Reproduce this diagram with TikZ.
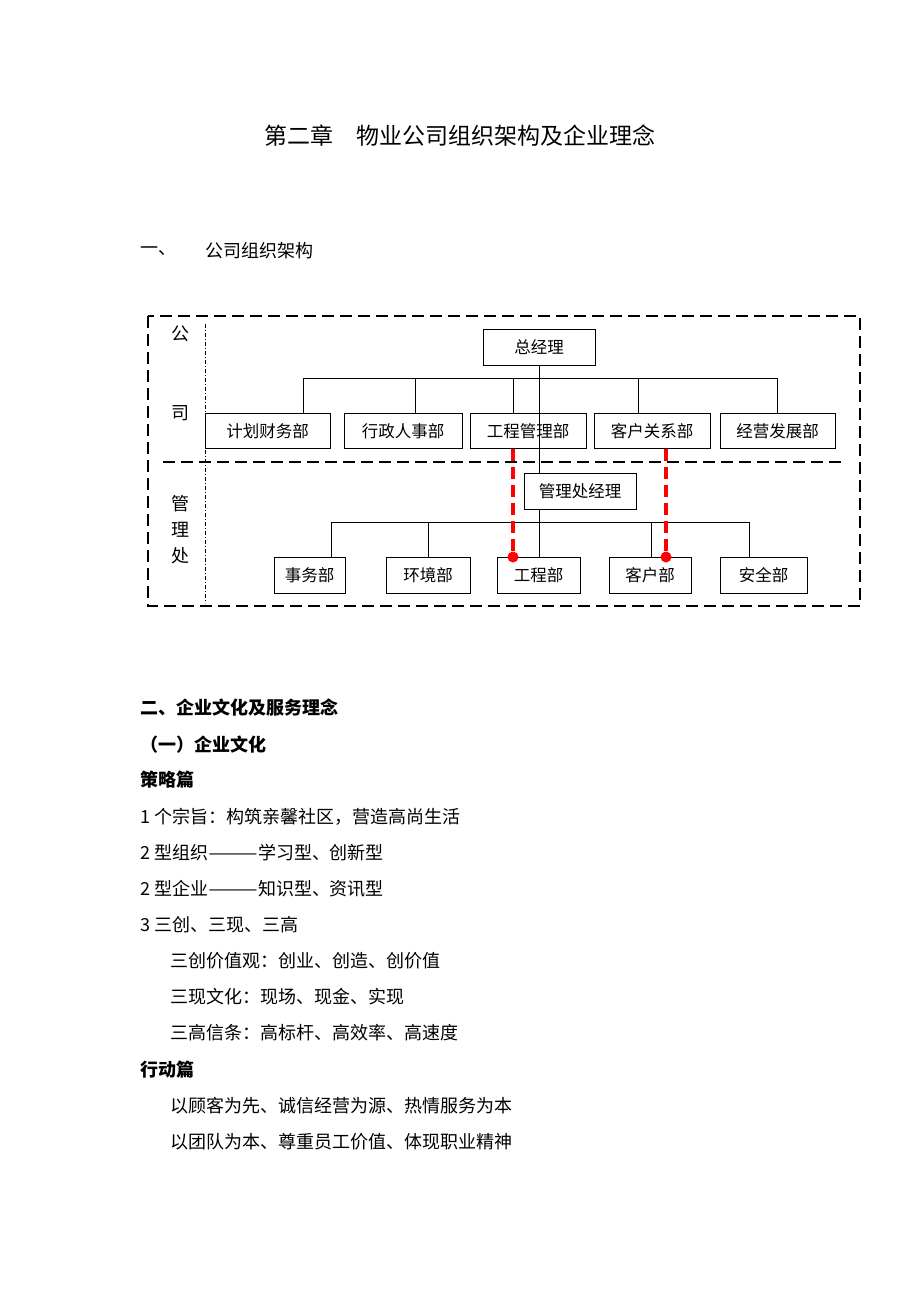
\documentclass[tikz,border=0pt]{standalone}
\usepackage{fontspec}
\setmainfont{Noto Sans CJK SC}
\usetikzlibrary{calc}
\newcommand{\wdash}{\scalebox{1.65}[1]{——}}
\begin{document}
\begin{tikzpicture}[x=1pt,y=-1pt,
  box/.style={draw,line width=1pt,fill=white,inner sep=0pt,font=\fontsize{16.5}{18}\selectfont},
  conn/.style={line width=0.9pt},
  redline/.style={red,line width=3.2pt,dash pattern=on 12pt off 6pt},
  reddot/.style={circle,fill=red,inner sep=0pt,minimum size=11pt},
  frame/.style={line width=2.2pt,dash pattern=on 12pt off 6pt},
  sep/.style={line width=0.6pt,dash pattern=on 4pt off 2pt on 1pt off 2pt},
  txt/.style={anchor=west,inner sep=0pt,font=\fontsize{18}{20}\selectfont},
  btxt/.style={anchor=west,inner sep=0pt,font=\fontsize{18}{20}\selectfont\bfseries},
  lbl/.style={inner sep=0pt,font=\fontsize{18}{20}\selectfont}]
\useasboundingbox[fill=white] (0,0) rectangle (920,1302);

% title and heading
\node[anchor=west,inner sep=0pt,font=\fontsize{23}{25}\selectfont] (title) at (264,136) {第二章　物业公司组织架构及企业理念};
\node[txt] (h1a) at (140,251) {一、};
\node[txt] (h1b) at (205,251) {公司组织架构};

% frame
\draw[frame] (148,316) rectangle (860,606);
\coordinate (dvl) at (163,462);
\coordinate (dvr) at (842,462);
\draw[frame] (dvl) -- (dvr);
\coordinate (spt) at (205,324);
\coordinate (spb) at (205,603);
\draw[sep] (spt) -- (spb);

\node[lbl] (g1) at (180,334) {公};
\node[lbl] (g2) at (180,413) {司};
\node[lbl] (m1) at (180,504) {管};
\node[lbl] (m2) at (180,530) {理};
\node[lbl] (m3) at (180,556) {处};

% boxes
\node[box,minimum width=112pt,minimum height=36pt] (zjl) at (539,347) {总经理};
\node[box,minimum width=125pt,minimum height=35pt] (r1a) at (267.5,431) {计划财务部};
\node[box,minimum width=118pt,minimum height=35pt] (r1b) at (403,431) {行政人事部};
\node[box,minimum width=116pt,minimum height=35pt] (r1c) at (528,431) {工程管理部};
\node[box,minimum width=116pt,minimum height=35pt] (r1d) at (652,431) {客户关系部};
\node[box,minimum width=115pt,minimum height=35pt] (r1e) at (777.5,431) {经营发展部};

\node[box,minimum width=112pt,minimum height=36pt] (glc) at (580,491) {管理处经理};
\node[box,minimum width=71pt,minimum height=36pt] (r2a) at (309.5,575.5) {事务部};
\node[box,minimum width=84pt,minimum height=36pt] (r2b) at (428,575.5) {环境部};
\node[box,minimum width=83pt,minimum height=36pt] (r2c) at (538.5,575.5) {工程部};
\node[box,minimum width=82pt,minimum height=36pt] (r2d) at (650,575.5) {客户部};
\node[box,minimum width=87pt,minimum height=36pt] (r2e) at (763.5,575.5) {安全部};

% top bus
\coordinate (b1) at (303,378);
\coordinate (b2) at (415,378);
\coordinate (b3) at (513,378);
\coordinate (b4) at (638,378);
\coordinate (b5) at (777,378);
\draw[conn] (b1) -- (b5);
\foreach \b/\n in {b1/r1a,b2/r1b,b3/r1c,b4/r1d,b5/r1e}
  \draw[conn] (\b) -- (\b |- \n.north);

% trunk
\draw[conn] (zjl.south) -- (zjl.south |- glc.north);

% lower bus
\coordinate (c1) at (331,522);
\coordinate (c2) at (428,522);
\coordinate (c3) at (539,522);
\coordinate (c4) at (651,522);
\coordinate (c5) at (749,522);
\draw[conn] (c3 |- glc.south) -- (c3);
\draw[conn] (c1) -- (c5);
\foreach \b/\n in {c1/r2a,c2/r2b,c3/r2c,c4/r2d,c5/r2e}
  \draw[conn] (\b) -- (\b |- \n.north);

% red dashed links
\coordinate (ra) at (513,449);
\coordinate (rb) at (666,449);
\node[reddot] (da) at (ra |- r2c.north) {};
\node[reddot] (db) at (rb |- r2d.north) {};
\draw[redline] (ra) -- (da.center);
\draw[redline] (rb) -- (db.center);

% section two
\node[btxt] (s1) at (140,708) {二、企业文化及服务理念};
\node[btxt] (s2) at (140,745) {（一）企业文化};
\node[btxt] (s3) at (140,780) {策略篇};
\node[txt] (t1) at (140,817) {1 个宗旨：构筑亲馨社区，营造高尚生活};
\node[txt] (t2) at (140,853) {2 型组织\wdash 学习型、创新型};
\node[txt] (t3) at (140,889) {2 型企业\wdash 知识型、资讯型};
\node[txt] (t4) at (140,925) {3 三创、三现、三高};
\node[txt] (t5) at (170,961) {三创价值观：创业、创造、创价值};
\node[txt] (t6) at (170,997) {三现文化：现场、现金、实现};
\node[txt] (t7) at (170,1033) {三高信条：高标杆、高效率、高速度};
\node[btxt] (s4) at (140,1070) {行动篇};
\node[txt] (t8) at (170,1106) {以顾客为先、诚信经营为源、热情服务为本};
\node[txt] (t9) at (170,1142) {以团队为本、尊重员工价值、体现职业精神};
\end{tikzpicture}
\end{document}
